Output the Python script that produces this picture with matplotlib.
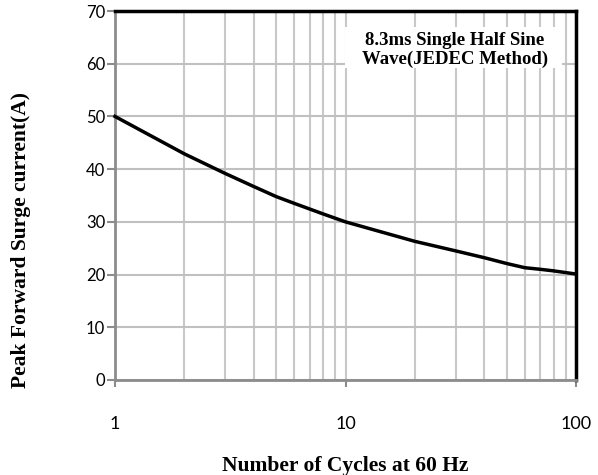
import numpy as np
import matplotlib
matplotlib.use("Agg")
import matplotlib.pyplot as plt
from matplotlib.patches import Rectangle
from matplotlib.ticker import FixedLocator, NullFormatter

# surge curve
cycles = [1, 2, 3, 4, 5, 6, 8, 10, 20, 30, 40, 50, 60, 70, 80, 100]
current = [50, 42.9, 39.2, 36.7, 34.8, 33.5, 31.5, 30, 26.3, 24.5, 23.2, 22.1, 21.3, 21.0, 20.7, 20.1]

y_ticks = [0, 10, 20, 30, 40, 50, 60, 70]
x_ticks = [1, 10, 100]
x_ticklabels = ["1", "10", "100"]
note = "8.3ms Single Half Sine\nWave(JEDEC Method)"

serif = ["Liberation Serif", "DejaVu Serif"]
sans = ["Lato", "DejaVu Sans"]

fig = plt.figure(figsize=(5.98, 4.75), dpi=100)
ax = fig.add_axes([0.1923, 0.2, 0.771, 0.7768])

ax.set_xscale("log")
ax.set_xlim(1, 100)
ax.set_ylim(0, 70)

# grid: every log decade step vertically, every 10 A horizontally
minor = [m * d for d in (1, 10) for m in range(2, 10)]
ax.xaxis.set_minor_locator(FixedLocator(minor))
ax.xaxis.set_minor_formatter(NullFormatter())
ax.set_xticks(x_ticks)
ax.set_xticklabels(x_ticklabels)
ax.set_yticks(y_ticks)
ax.grid(True, which="both", axis="x", color="#c8c8c8", lw=1.5, zorder=0)
ax.grid(True, which="major", axis="y", color="#c0c0c0", lw=1.5, zorder=0)

ax.plot(cycles, current, color="black", lw=2.5, zorder=3, clip_on=False)

# white note box that hides the grid behind it
ax.add_patch(Rectangle((0.499, 0.846), 0.471, 0.111, transform=ax.transAxes,
                       facecolor="white", edgecolor="none", zorder=4))
ax.text(0.737, 0.894, note, transform=ax.transAxes, ha="center", va="center",
        fontsize=13.5, fontweight="bold", family=serif, linespacing=1.15,
        zorder=5)

for s in ("top", "right"):
    ax.spines[s].set_color("black")
    ax.spines[s].set_linewidth(2.5)
for s in ("left", "bottom"):
    ax.spines[s].set_color("#8c8c8c")
    ax.spines[s].set_linewidth(2)

ax.tick_params(axis="y", which="major", direction="out", length=6, width=1.5,
               color="#8c8c8c", pad=1, labelsize=12)
ax.tick_params(axis="x", which="major", direction="out", length=5, width=1.5,
               color="#8c8c8c", pad=21, labelsize=13)
ax.tick_params(axis="x", which="minor", length=0)
for lab in ax.get_xticklabels() + ax.get_yticklabels():
    lab.set_family(sans)

ax.set_xlabel("Number of Cycles at 60 Hz", fontsize=15.5, fontweight="bold",
              family=serif, labelpad=17)
ax.set_ylabel("Peak Forward Surge current(A)", fontsize=15.5, fontweight="bold",
              family=serif)
ax.yaxis.set_label_coords(-0.183, 0.38)

fig.savefig("out.png", dpi=100)
